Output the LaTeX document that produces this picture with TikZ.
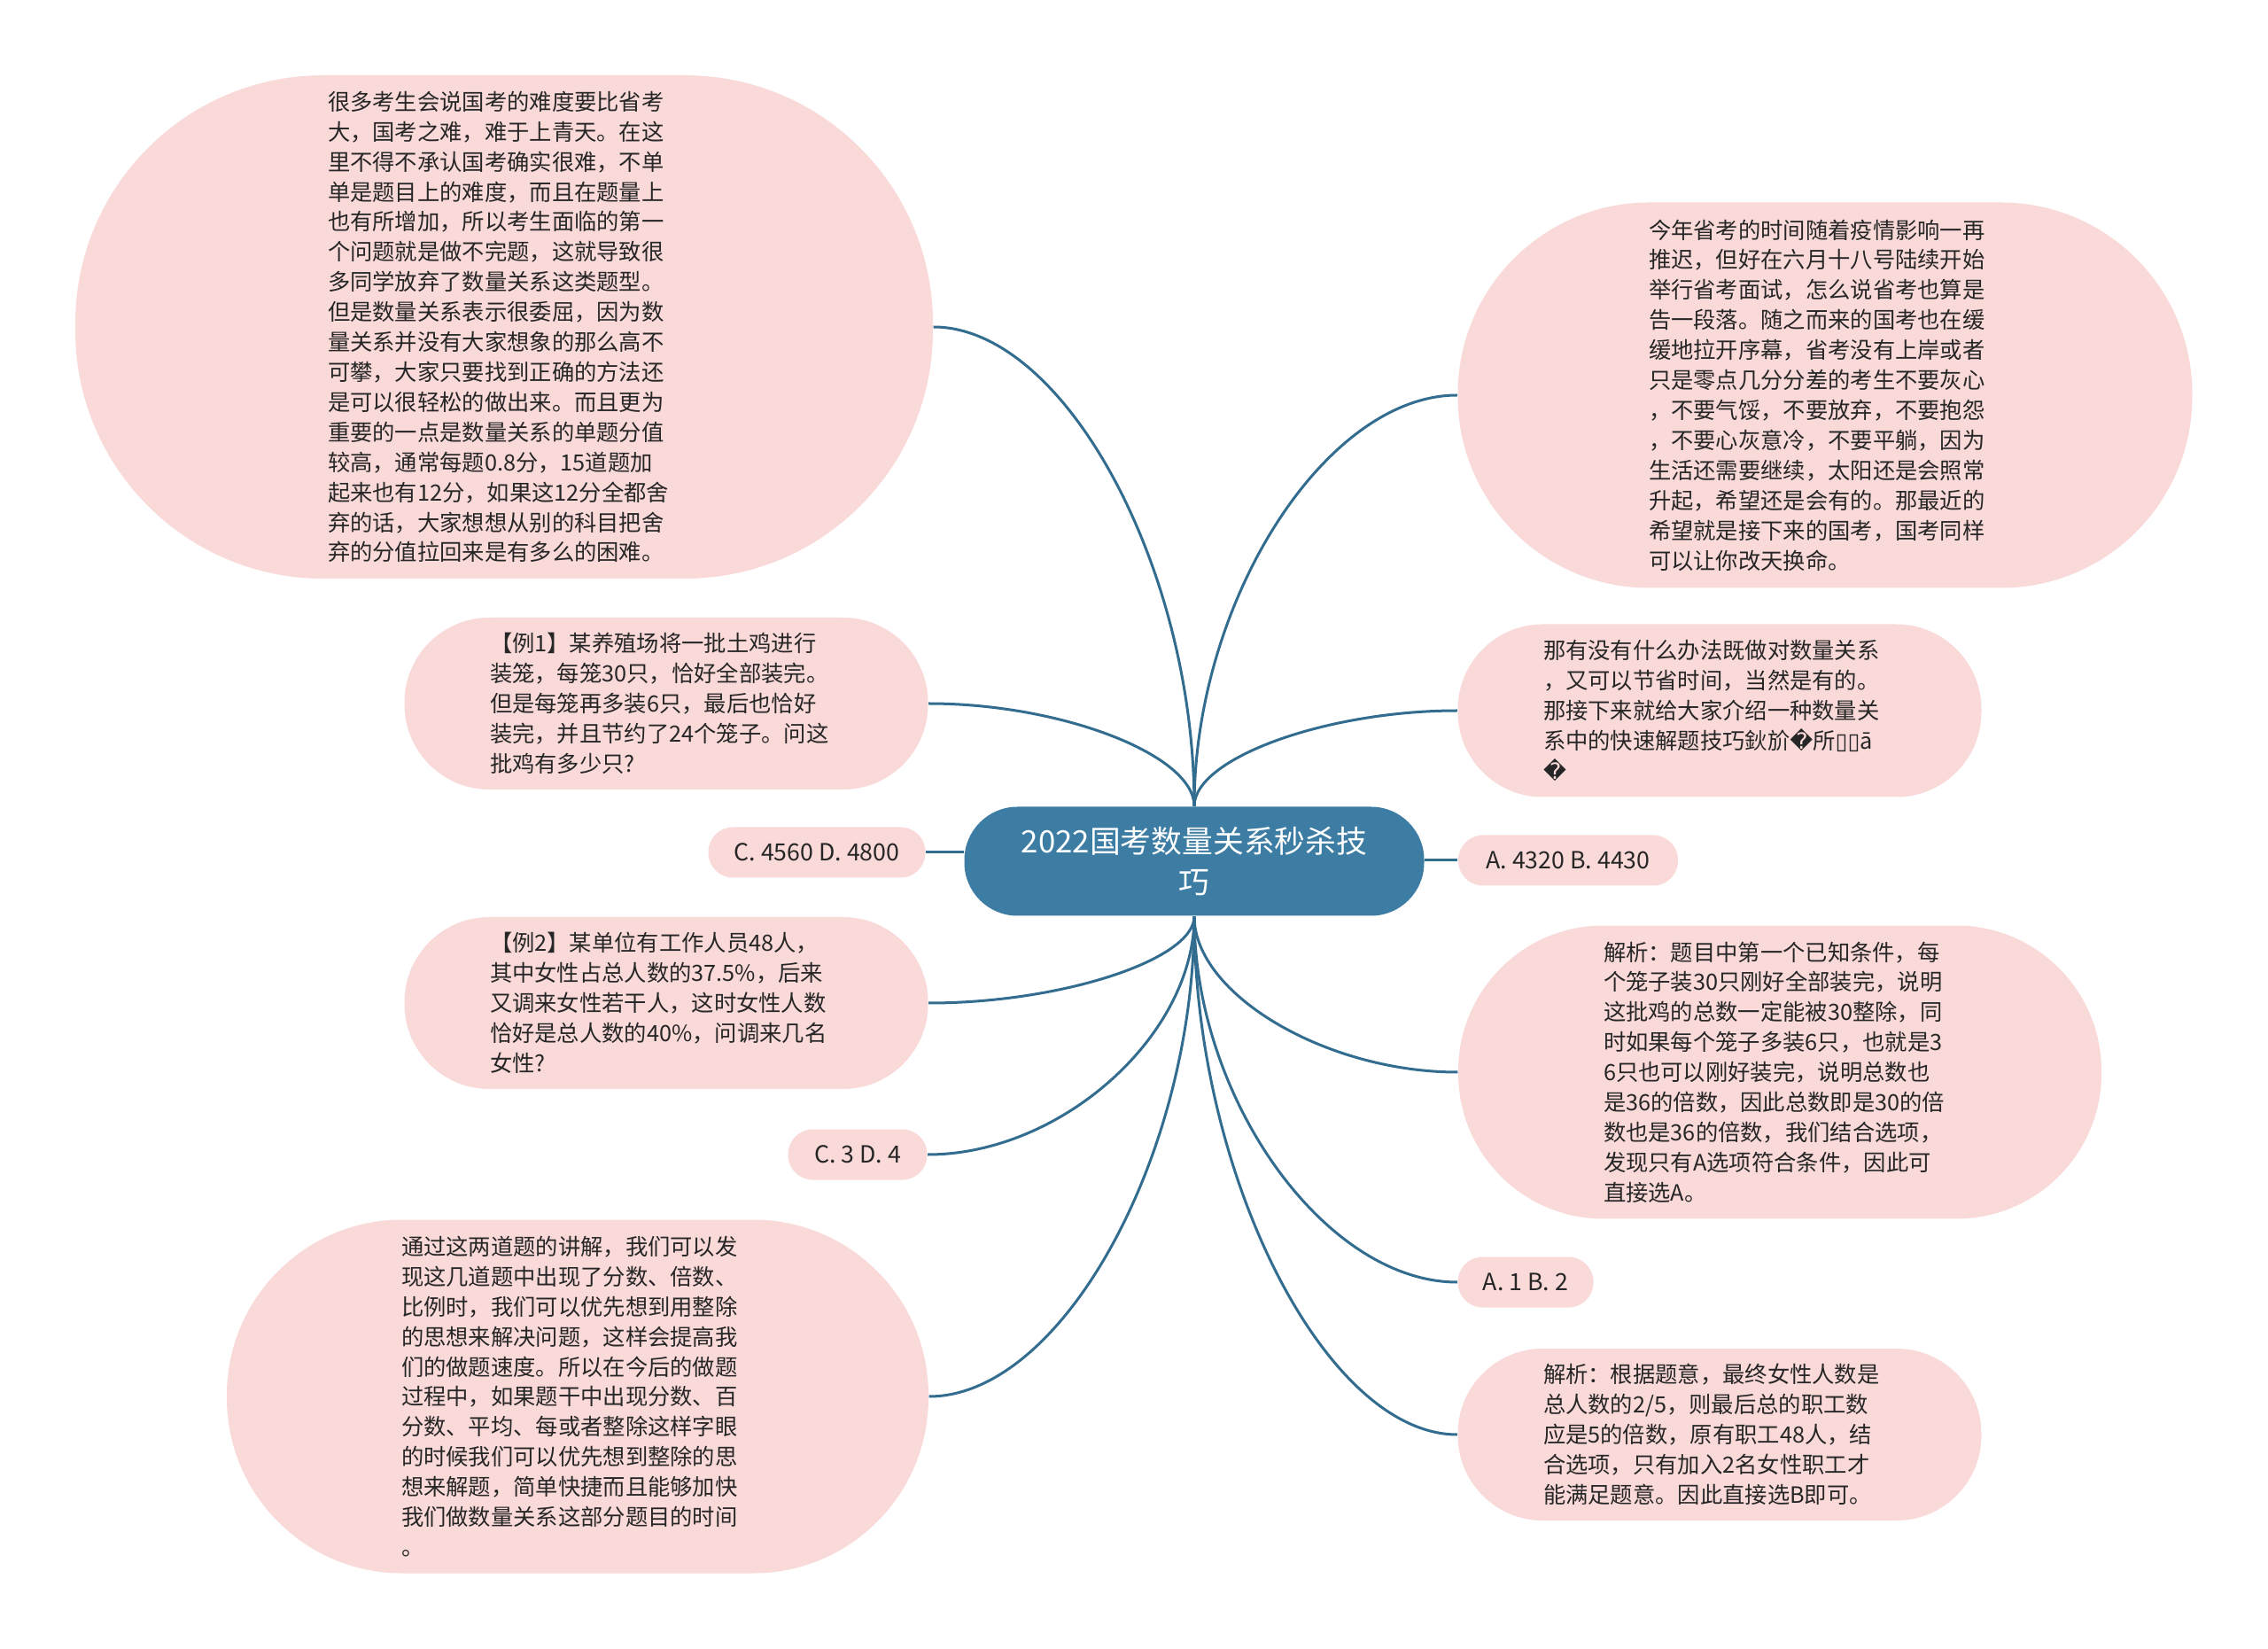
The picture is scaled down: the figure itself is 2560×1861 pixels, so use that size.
\documentclass[tikz,border=0pt]{standalone}
\usepackage{fontspec}
\setmainfont{Noto Sans CJK SC}
\newfontfamily\dejavu{DejaVu Sans}
\usepackage{tikz}
\usetikzlibrary{calc}
\definecolor{leafpink}{RGB}{250,217,217}
\definecolor{rootblue}{RGB}{61,125,163}
\definecolor{linkblue}{RGB}{50,108,143}
\definecolor{textgray}{RGB}{38,38,38}

\begin{document}
\begin{tikzpicture}[x=0.1mm,y=-0.1mm,
  leaf/.style n args={3}{fill=leafpink,text=textgray,inner sep=0pt,align=left,text width=39.8mm,
    font=\fontsize{7.2pt}{9.65pt}\selectfont,minimum width=#1,minimum height=#2,rounded corners=#3},
  opt/.style={fill=leafpink,text=textgray,inner sep=0pt,
    font=\fontsize{7.6pt}{9.65pt}\selectfont,minimum width=#1,minimum height=5.7mm,rounded corners=2.8mm},
  link/.style={draw=linkblue,line width=0.3mm},
  branch/.style={to path={.. controls ($(\tikztostart)!0.5!(\tikztostart |- \tikztotarget)$)
    and ($(\tikztotarget)!0.5!(\tikztostart |- \tikztotarget)$) .. (\tikztotarget)}}]
  \useasboundingbox[fill=white](0,0) rectangle (2560,1861);
  \node[fill=rootblue,text=white,inner sep=0pt,align=center,minimum width=51.9mm,minimum height=12.3mm,
    rounded corners=6mm,font=\fontsize{9.9pt}{13pt}\selectfont] (root) at (1348,972) {2022国考数量关系秒杀技\\巧};
  % left side
  \node[leaf={96.8mm}{56.8mm}{28mm}] (bigl) at (569,369) {很多考生会说国考的难度要比省考\\大，国考之难，难于上青天。在这\\里不得不承认国考确实很难，不单\\单是题目上的难度，而且在题量上\\也有所增加，所以考生面临的第一\\个问题就是做不完题，这就导致很\\多同学放弃了数量关系这类题型。\\但是数量关系表示很委屈，因为数\\量关系并没有大家想象的那么高不\\可攀，大家只要找到正确的方法还\\是可以很轻松的做出来。而且更为\\重要的一点是数量关系的单题分值\\较高，通常每题0.8分，15道题加\\起来也有12分，如果这12分全都舍\\弃的话，大家想想从别的科目把舍\\弃的分值拉回来是有多么的困难。};
  \node[leaf={59.1mm}{19.4mm}{9.6mm}] (ex1) at (752,794) {【例1】某养殖场将一批土鸡进行\\装笼，每笼30只，恰好全部装完。\\但是每笼再多装6只，最后也恰好\\装完，并且节约了24个笼子。问这\\批鸡有多少只?};
  \node[opt=24.5mm] (c4560) at (922,962) {C. 4560 D. 4800};
  \node[leaf={59.1mm}{19.4mm}{9.6mm}] (ex2) at (752,1132) {【例2】某单位有工作人员48人，\\其中女性占总人数的37.5\%，后来\\又调来女性若干人，这时女性人数\\恰好是总人数的40\%，问调来几名\\女性?};
  \node[opt=15.7mm] (c3d4) at (968,1303) {C. 3 D. 4};
  \node[leaf={79.2mm}{39.9mm}{19.8mm}] (bigb) at (652,1576) {通过这两道题的讲解，我们可以发\\现这几道题中出现了分数、倍数、\\比例时，我们可以优先想到用整除\\的思想来解决问题，这样会提高我\\们的做题速度。所以在今后的做题\\过程中，如果题干中出现分数、百\\分数、平均、每或者整除这样字眼\\的时候我们可以优先想到整除的思\\想来解题，简单快捷而且能够加快\\我们做数量关系这部分题目的时间\\。};
  % right side
  \node[leaf={82.9mm}{43.5mm}{21.6mm}] (topr) at (2060,446) {今年省考的时间随着疫情影响一再\\推迟，但好在六月十八号陆续开始\\举行省考面试，怎么说省考也算是\\告一段落。随之而来的国考也在缓\\缓地拉开序幕，省考没有上岸或者\\只是零点几分分差的考生不要灰心\\，不要气馁，不要放弃，不要抱怨\\，不要心灰意冷，不要平躺，因为\\生活还需要继续，太阳还是会照常\\升起，希望还是会有的。那最近的\\希望就是接下来的国考，国考同样\\可以让你改天换命。};
  \node[leaf={59.1mm}{19.5mm}{9.6mm}] (howto) at (1941,802) {那有没有什么办法既做对数量关系\\，又可以节省时间，当然是有的。\\那接下来就给大家介绍一种数量关\\系中的快速解题技巧鈥斺{\dejavu �}所{\dejavu ▯▯}ā\\{\dejavu �}};
  \node[opt=24.8mm] (a4320) at (1770,971) {A. 4320 B. 4430};
  \node[leaf={72.6mm}{33.1mm}{16.4mm}] (ana1) at (2009,1210) {解析：题目中第一个已知条件，每\\个笼子装30只刚好全部装完，说明\\这批鸡的总数一定能被30整除，同\\时如果每个笼子多装6只，也就是3\\6只也可以刚好装完，说明总数也\\是36的倍数，因此总数即是30的倍\\数也是36的倍数，我们结合选项，\\发现只有A选项符合条件，因此可\\直接选A。};
  \node[opt=15.3mm] (a1b2) at (1722,1447) {A. 1 B. 2};
  \node[leaf={59.1mm}{19.4mm}{9.6mm}] (ana2) at (1941,1619) {解析：根据题意，最终女性人数是\\总人数的2/5，则最后总的职工数\\应是5的倍数，原有职工48人，结\\合选项，只有加入2名女性职工才\\能满足题意。因此直接选B即可。};
  % connectors
  \draw[link] (root.north) to[branch] (bigl.east);
  \draw[link] (root.north) to[branch] (ex1.east);
  \draw[link] (c4560.east) -- (c4560.east -| root.west);
  \draw[link] (root.south) to[branch] (ex2.east);
  \draw[link] (root.south) to[branch] (c3d4.east);
  \draw[link] (root.south) to[branch] (bigb.east);
  \draw[link] (root.north) to[branch] (topr.west);
  \draw[link] (root.north) to[branch] (howto.west);
  \draw[link] (a4320.west) -- (a4320.west -| root.east);
  \draw[link] (root.south) to[branch] (ana1.west);
  \draw[link] (root.south) to[branch] (a1b2.west);
  \draw[link] (root.south) to[branch] (ana2.west);
\end{tikzpicture}
\end{document}
